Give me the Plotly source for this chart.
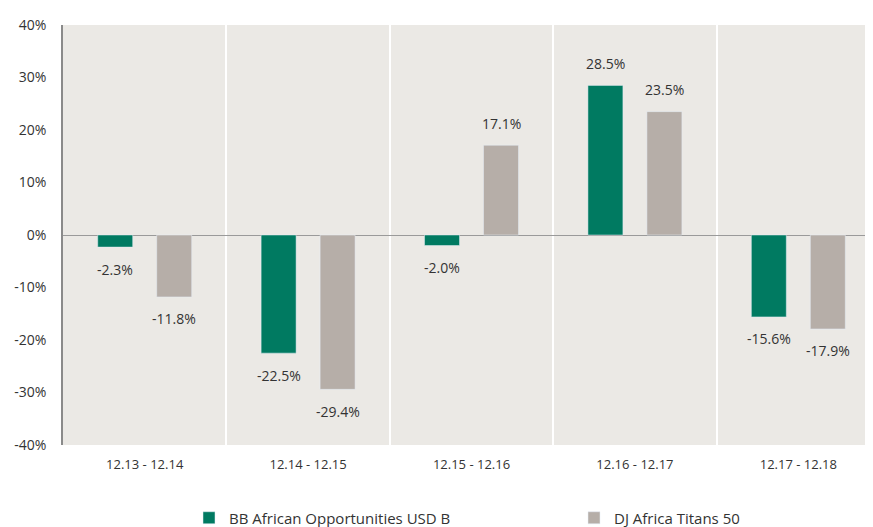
import plotly.graph_objects as go

categories = ["12.13 - 12.14", "12.14 - 12.15", "12.15 - 12.16", "12.16 - 12.17", "12.17 - 12.18"]
fund_name = "BB African Opportunities USD B"
fund_values = [-2.3, -22.5, -2.0, 28.5, -15.6]
index_name = "DJ Africa Titans 50"
index_values = [-11.8, -29.4, 17.1, 23.5, -17.9]
y_tickvals = [-40, -30, -20, -10, 0, 10, 20, 30, 40]
y_ticktext = ["-40%", "-30%", "-20%", "-10%", "0%", "10%", "20%", "30%", "40%"]

GREEN = "#007A61"
GREY = "#B6AEA8"
FONT = "Open Sans"
TXT = "#333333"

W, H = 865, 519  # page adds an 8px body margin

fig = go.Figure()
fig.add_trace(go.Bar(x=categories, y=fund_values, name=fund_name, marker_color=GREEN,
                     legend="legend"))
fig.add_trace(go.Bar(x=categories, y=index_values, name=index_name, marker_color=GREY,
                     legend="legend2"))

annotations = []
for vals, shift in ((fund_values, -29.5), (index_values, 29.5)):
    for c, v in zip(categories, vals):
        annotations.append(dict(
            x=c, y=v, xref="x", yref="y", text=f"{v:.1f}%", showarrow=False,
            xshift=shift, yshift=22 if v >= 0 else -22, yanchor="middle",
            font=dict(family=FONT, size=14, color=TXT)))

leg_common = dict(orientation="h", xanchor="left", yanchor="middle",
                  xref="container", yref="container", y=1 - 510 / H,
                  itemwidth=30, font=dict(family=FONT, size=15, color=TXT),
                  bgcolor="rgba(0,0,0,0)")

fig.update_layout(
    width=W, height=H,
    margin=dict(l=55, r=0, t=17, b=81.5, autoexpand=False),
    paper_bgcolor="white", plot_bgcolor="#EBE9E5",
    barmode="group", bargap=0.278, bargroupgap=0.407,
    font=dict(family=FONT, size=14, color=TXT),
    annotations=annotations,
    showlegend=True,
    legend=dict(x=181 / W, **leg_common),
    legend2=dict(x=566 / W, **leg_common),
)
fig.update_xaxes(
    type="category", range=[-0.5, 4.457], tickson="boundaries",
    showgrid=True, gridcolor="white", gridwidth=2, automargin=False,
    ticks="", ticklabelstandoff=10, showline=False, zeroline=False,
    tickfont=dict(family=FONT, size=13, color=TXT), fixedrange=True,
)
fig.update_yaxes(
    range=[-40, 40], tickvals=y_tickvals, ticktext=y_ticktext, automargin=False,
    showgrid=False, zeroline=True, zerolinecolor="#9A9A9A", zerolinewidth=1,
    showline=True, linecolor="#8A8A8A", linewidth=1.5,
    ticks="", ticklabelstandoff=12,
    tickfont=dict(family=FONT, size=14, color=TXT), fixedrange=True,
)

fig.write_html("out.html")
